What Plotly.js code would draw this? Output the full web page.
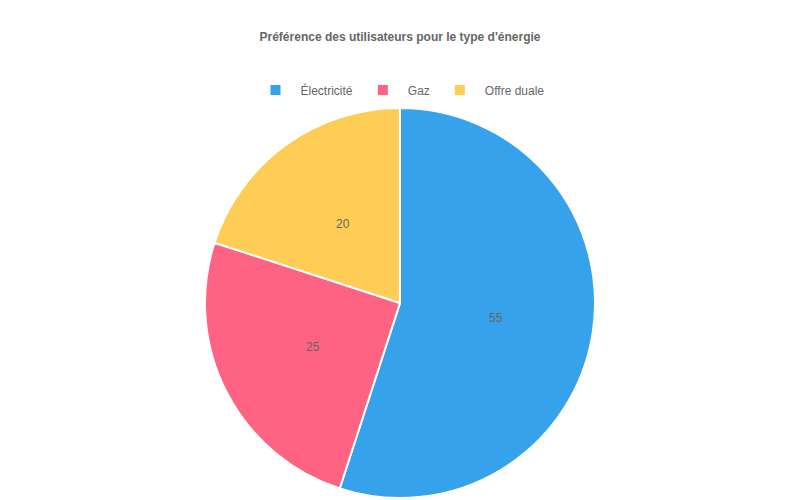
<!DOCTYPE html>
<html>
<head>
<meta charset="utf-8">
<script src="https://cdn.plot.ly/plotly-3.0.1.min.js"></script>
<style>
  html, body { margin: 0; padding: 0; background: #fff; }
  #chart { width: 800px; height: 500px; }
</style>
</head>
<body>
<div id="chart"></div>
<script>
const labels = ["Électricité", "Gaz", "Offre duale"];
const values = [55, 25, 20];
const colors = ["#36A2EB", "#FF6384", "#FFCD56"];

// pie geometry in paper units (plot is 800x500, no margins)
const pieDomain = { x: [205 / 800, 595 / 800], y: [2 / 500, 392 / 500] };
const cx = (pieDomain.x[0] + pieDomain.x[1]) / 2;
const cy = (pieDomain.y[0] + pieDomain.y[1]) / 2;
const radiusPx = 195;

// value labels at half radius on each slice's mid angle (clockwise from top)
const total = values.reduce((a, b) => a + b, 0);
let acc = 0;
const valueLabels = values.map((v) => {
  const mid = ((acc + v / 2) / total) * 2 * Math.PI;
  acc += v;
  return {
    text: String(v),
    xref: "paper",
    yref: "paper",
    x: cx + (radiusPx / 2) * Math.sin(mid) / 800,
    y: cy + (radiusPx / 2) * Math.cos(mid) / 500,
    xanchor: "center",
    yanchor: "middle",
    showarrow: false,
    font: { size: 12, color: "#666" },
  };
});

const data = [{
  type: "pie",
  labels: labels,
  values: values,
  sort: false,
  direction: "clockwise",
  rotation: 0,
  marker: { colors: colors, line: { color: "#fff", width: 2 } },
  textinfo: "none",
  hoverinfo: "label+value",
  domain: pieDomain,
}];

const layout = {
  width: 800,
  height: 500,
  margin: { l: 0, r: 0, t: 0, b: 0 },
  paper_bgcolor: "#fff",
  font: { family: "Liberation Sans, Arial, sans-serif", size: 12, color: "#666" },
  title: {
    text: "<b>Préférence des utilisateurs pour le type d'énergie</b>",
    font: { size: 12, color: "#666" },
    x: 0.5,
    xanchor: "center",
    y: 1 - 37 / 500,
    yanchor: "middle",
  },
  showlegend: true,
  legend: {
    orientation: "h",
    x: 0.5,
    xanchor: "center",
    y: 1 - 90 / 500,
    yanchor: "middle",
    itemwidth: 40,
    font: { size: 12, color: "#666" },
    traceorder: "normal",
  },
  annotations: valueLabels,
};

Plotly.newPlot("chart", data, layout, { staticPlot: true });
</script>
</body>
</html>
